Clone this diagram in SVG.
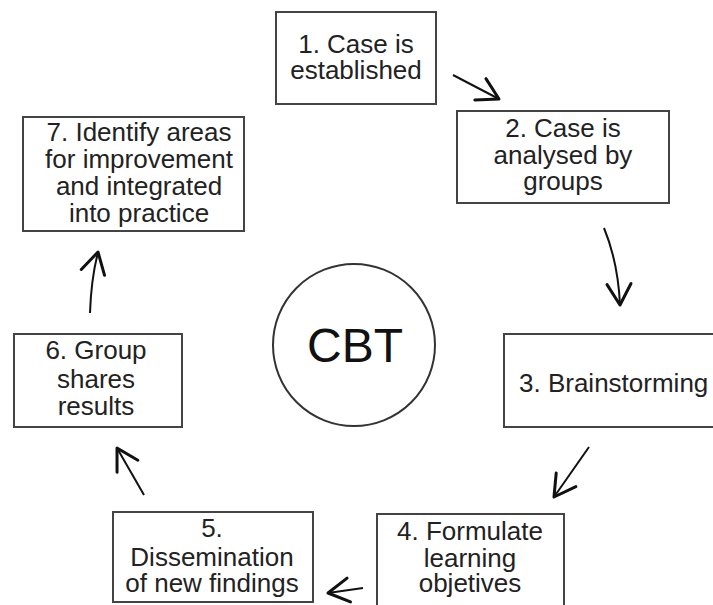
<svg xmlns="http://www.w3.org/2000/svg" width="713" height="605" viewBox="0 0 713 605">
<style>
.box{fill:#fff;stroke:#444;stroke-width:2}
.t{font-family:"Liberation Sans",Arial,sans-serif;font-size:26px;fill:#222;text-anchor:middle}
.c{fill:none;stroke:#111;stroke-width:2;marker-end:url(#ah)}
</style>
<defs>
<marker id="ah" markerUnits="userSpaceOnUse" markerWidth="30" markerHeight="30" viewBox="-16 -10 20 20" refX="0" refY="0" orient="auto">
<path d="M-14,-8 L0,0 L-14,8" fill="none" stroke="#111" stroke-width="2" stroke-linecap="round" stroke-linejoin="round"/>
</marker>
</defs>
<rect width="713" height="605" fill="#fff"/>
<g id="node1">
<rect class="box" x="276" y="12" width="160" height="92"/>
<text class="t" x="356" y="53">1. Case is</text>
<text class="t" x="356" y="79">established</text>
</g>
<g id="node2">
<rect class="box" x="457" y="111" width="212" height="92"/>
<text class="t" x="563" y="137">2. Case is</text>
<text class="t" x="563" y="164">analysed by</text>
<text class="t" x="563" y="190">groups</text>
</g>
<g id="node3">
<rect class="box" x="504" y="334" width="215" height="93"/>
<text class="t" x="519" y="392" style="text-anchor:start">3. Brainstorming</text>
</g>
<g id="node4">
<rect class="box" x="377" y="514" width="187" height="98"/>
<text class="t" x="470" y="540">4. Formulate</text>
<text class="t" x="470" y="567">learning</text>
<text class="t" x="470" y="592">objetives</text>
</g>
<g id="node5">
<rect class="box" x="113" y="512" width="200" height="90"/>
<text class="t" x="212" y="537">5.</text>
<text class="t" x="212" y="566">Dissemination</text>
<text class="t" x="212" y="592">of new findings</text>
</g>
<g id="node6">
<rect class="box" x="14" y="334" width="168" height="93"/>
<text class="t" x="96" y="359">6. Group</text>
<text class="t" x="96" y="388">shares</text>
<text class="t" x="96" y="415">results</text>
</g>
<g id="node7">
<rect class="box" x="23" y="117" width="221" height="114"/>
<text class="t" x="139" y="141">7. Identify areas</text>
<text class="t" x="139" y="168">for improvement</text>
<text class="t" x="139" y="195">and integrated</text>
<text class="t" x="139" y="222">into practice</text>
</g>
<g id="center">
<circle cx="354" cy="345" r="81" fill="#fff" stroke="#333" stroke-width="2"/>
<text x="355" y="362" style="font-family:'Liberation Sans',Arial,sans-serif;font-size:48px;fill:#111;text-anchor:middle">CBT</text>
</g>
<g id="connectors">
<path class="c" d="M453,75 L499,99"/>
<path class="c" d="M604,228 Q618,262 620,305"/>
<path class="c" d="M589,447 L554,497"/>
<path class="c" d="M363,588 L328,593"/>
<path class="c" d="M144,495 L117,448"/>
<path class="c" d="M90,313 Q91,280 98,252"/>
</g>
</svg>
